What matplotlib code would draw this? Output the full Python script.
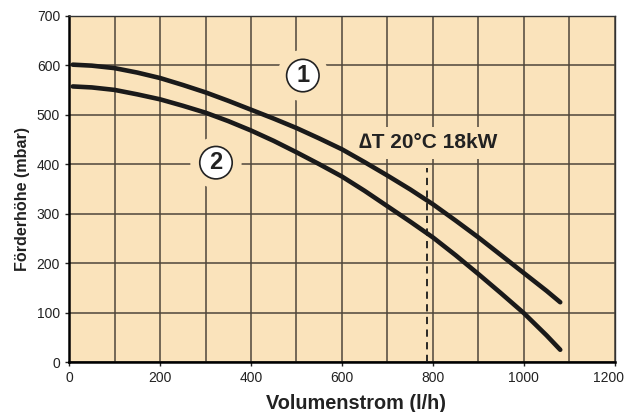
import matplotlib.pyplot as plt
import matplotlib.transforms as mtrans

# Pumpenkennlinien (Förderhöhe über Volumenstrom)
flow = [8, 50, 100, 150, 200, 250, 300, 350, 400, 450, 500, 550,
        600, 650, 700, 750, 800, 850, 900, 950, 1000, 1050, 1080]
head_1 = [601, 599, 594, 585, 574, 560, 545, 528, 510, 492, 473, 452,
          430, 404, 377, 349, 319, 286, 252, 216, 180, 144, 121]
head_2 = [557, 555, 550, 541, 531, 518, 504, 487, 468, 447, 424, 400,
          375, 346, 315, 284, 252, 216, 178, 139, 99, 54, 25]

x_ticks = [0, 200, 400, 600, 800, 1000, 1200]
y_ticks = [0, 100, 200, 300, 400, 500, 600, 700]
dt_flow = 787
dt_top = 393
dt_text = '∆T 20°C 18kW'

bg = '#fae3bb'
grid_col = '#4e463a'
ink = '#222222'

plt.rcParams['font.family'] = ['Liberation Sans', 'DejaVu Sans']

fig = plt.figure(figsize=(6.28, 4.12), dpi=100)
ax = fig.add_axes([0.110, 0.121, 0.869, 0.841])
ax.set_facecolor(bg)

ax.set_xlim(0, 1200)
ax.set_ylim(0, 700)
ax.set_xticks(x_ticks)
ax.set_xticks(range(100, 1200, 200), minor=True)
ax.set_yticks(y_ticks)
ax.tick_params(which='both', direction='out', length=3, width=1, colors=ink, labelsize=10)
ax.tick_params(which='minor', length=0)
ax.grid(True, which='both', color=grid_col, lw=1.1, zorder=1)
ax.set_axisbelow(True)

# letzte Beschriftung etwas nach links, wie im Original
last = ax.get_xticklabels()[-1]
last.set_transform(last.get_transform() + mtrans.ScaledTranslation(-6 / 100, 0, fig.dpi_scale_trans))

for s in ['left', 'bottom']:
    ax.spines[s].set_linewidth(1.8)
for s in ['top', 'right']:
    ax.spines[s].set_linewidth(1.0)
    ax.spines[s].set_color('#333333')

ax.plot(flow, head_1, color='#1a1a1a', lw=3.3, solid_capstyle='round', zorder=5)
ax.plot(flow, head_2, color='#1a1a1a', lw=3.3, solid_capstyle='round', zorder=5)

ax.vlines(dt_flow, 0, dt_top, colors='#1a1a1a', linestyles=(0, (4, 3)), lw=1.3, zorder=4)

# Beschriftungen mit Lücke im Gitter
ax.text(789, 443, dt_text, ha='center', va='center', fontsize=15, fontweight='bold',
        color=ink, zorder=3,
        bbox=dict(boxstyle='square,pad=0.3', facecolor=bg, edgecolor='none'))

for lbl, x, y in [('1', 514, 579), ('2', 323, 403)]:
    ax.text(x, y, lbl, ha='center', va='center', fontsize=17, fontweight='bold', color=bg, zorder=3,
            bbox=dict(boxstyle='circle,pad=0.6', facecolor=bg, edgecolor='none'))
    ax.text(x, y, lbl, ha='center', va='center', fontsize=17, fontweight='bold',
            color=ink, zorder=6,
            bbox=dict(boxstyle='circle,pad=0.2', facecolor='white', edgecolor=ink, lw=1.2))

ax.set_xlabel('Volumenstrom (l/h)', fontsize=14.3, fontweight='bold', color=ink, labelpad=6, x=0.526)
ax.set_ylabel('Förderhöhe (mbar)', fontsize=11.6, fontweight='bold', color=ink, labelpad=5, y=0.471)

fig.savefig('out.png', dpi=100)
